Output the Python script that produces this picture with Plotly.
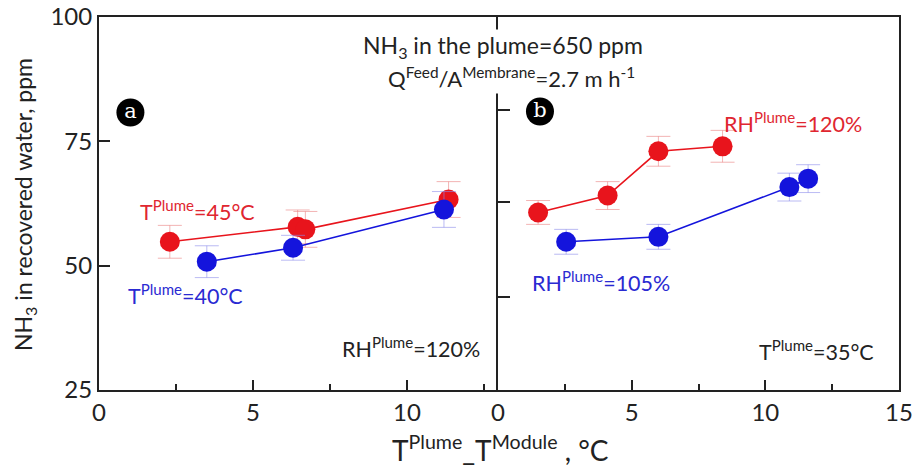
import plotly.graph_objects as go

# ---------------- data ----------------
# Panel a (RH plume = 120%)
a_red_x = [2.3, 6.45, 6.7, 11.35]      # T plume = 45 °C
a_red_y = [54.8, 57.8, 57.3, 63.3]
a_red_err = [3.3, 3.4, 3.6, 3.6]
a_blue_x = [3.5, 6.3, 11.2]            # T plume = 40 °C
a_blue_y = [50.8, 53.6, 61.3]
a_blue_err = [3.2, 2.5, 3.6]

# Panel b (T plume = 35 °C)
b_red_x = [1.5, 4.1, 6.0, 8.4]          # RH plume = 120 %
b_red_y = [60.7, 64.1, 73.0, 74.0]
b_red_err = [2.4, 2.8, 3.0, 3.2]
b_blue_x = [2.55, 6.0, 10.9, 11.6]      # RH plume = 105 %
b_blue_y = [54.8, 55.8, 65.8, 67.5]
b_blue_err = [2.5, 2.5, 2.8, 2.8]

y_ticks = [25, 50, 75, 100]
xa_ticks = [0, 5, 10]
xb_ticks = [0, 5, 10, 15]
yb_ticks = [43.8, 62.8, 81.4]

panel_letters = ["a", "b"]

RED = "#e8141c"
BLUE = "#1414dc"
RED_T = "#e02630"
BLUE_T = "#2a2ad2"
AX = "#222222"
FONT = "Lato"

fig = go.Figure()


def add_series(x, y, err, color, errcolor, xa, ya):
    fig.add_trace(go.Scatter(
        x=x, y=y, xaxis=xa, yaxis=ya, mode="lines+markers",
        line=dict(color=color, width=1.6),
        marker=dict(color=color, size=20, line=dict(width=0)),
        error_y=dict(type="data", array=err, visible=True,
                     color=errcolor, thickness=1, width=12),
        showlegend=False, hoverinfo="skip"))


add_series(a_red_x, a_red_y, a_red_err, RED, "rgba(235,130,130,0.6)", "x", "y")
add_series(a_blue_x, a_blue_y, a_blue_err, BLUE, "rgba(140,140,235,0.6)", "x", "y")
add_series(b_red_x, b_red_y, b_red_err, RED, "rgba(235,130,130,0.6)", "x2", "y2")
add_series(b_blue_x, b_blue_y, b_blue_err, BLUE, "rgba(140,140,235,0.6)", "x2", "y2")

# panel letter badges (positioned in each panel's own axes)
fig.add_trace(go.Scatter(x=[1.02], y=[80.8], xaxis="x", yaxis="y",
                         mode="markers+text", text=[panel_letters[0]],
                         textposition="middle center",
                         textfont=dict(family="DejaVu Serif, Liberation Serif, serif",
                                       size=21, color="white"),
                         marker=dict(color="black", size=28, line=dict(width=0)),
                         showlegend=False, hoverinfo="skip"))
fig.add_trace(go.Scatter(x=[1.57], y=[81.0], xaxis="x2", yaxis="y2",
                         mode="markers+text", text=[panel_letters[1]],
                         textposition="middle center",
                         textfont=dict(family="DejaVu Serif, Liberation Serif, serif",
                                       size=21, color="white"),
                         marker=dict(color="black", size=28, line=dict(width=0)),
                         showlegend=False, hoverinfo="skip"))

L, R, T, B = 99, 899, 17, 390
W, H = 913, 469
split = (498 - L) / (R - L)

tickfont = dict(family=FONT, size=24, color=AX)
common_x = dict(showline=True, linecolor=AX, linewidth=2, mirror=True,
                showgrid=False, zeroline=False, ticks="inside", ticklen=10,
                tickwidth=2, tickcolor=AX, tickfont=tickfont, automargin=False,
                minor=dict(dtick=2.5, tick0=0, ticks="inside", ticklen=6,
                           tickwidth=1.5, tickcolor=AX, showgrid=False))

fig.update_layout(
    width=W, height=H,
    margin=dict(l=L, r=W - R, t=T, b=H - B),
    paper_bgcolor="white", plot_bgcolor="white",
    font=dict(family=FONT, color=AX),
    xaxis=dict(domain=[0, split], range=[0, (498 - L) / 30.8],
               tickvals=xa_ticks, anchor="y", **common_x),
    xaxis2=dict(domain=[split, 1], range=[0, 15],
                tickvals=xb_ticks, anchor="y2", **common_x),
    yaxis=dict(domain=[0, 1], range=[25, 100], tickvals=y_ticks,
               showline=True, linecolor=AX, linewidth=2, mirror=False,
               showgrid=False, zeroline=False, ticks="inside", ticklen=11,
               tickwidth=2, tickcolor=AX, tickfont=tickfont, anchor="x",
               automargin=False),
    yaxis2=dict(domain=[0, 1], range=[25, 100], tickvals=yb_ticks,
                showticklabels=False, automargin=False,
                showline=True, linecolor=AX, linewidth=2, mirror=True,
                showgrid=False, zeroline=False, ticks="inside", ticklen=12,
                tickwidth=2, tickcolor=AX, anchor="x2"),
)


def px_x(px):
    return (px - L) / (R - L)


def px_y(py):
    return (B - py) / (B - T)


def note(text, x, y, xref, yref, size, color, **kw):
    return dict(text=text, x=x, y=y, xref=xref, yref=yref, showarrow=False,
                xanchor="center", yanchor="middle",
                font=dict(family=FONT, size=size, color=color), **kw)


ann = []
# header texts
ann.append(note("NH<sub>3</sub> in the plume=650 ppm", px_x(503), px_y(46),
                "paper", "paper", 23, AX, bgcolor="white"))
ann.append(note("Q<sup>Feed</sup>/A<sup>Membrane</sup>=2.7 m h<sup>-1</sup>",
                px_x(511), px_y(77), "paper", "paper", 22, AX, bgcolor="white"))

# series labels, panel a
ann.append(note("T<sup>Plume</sup>=45°C", 3.2, 61.0, "x", "y", 21.5, RED_T))
ann.append(note("T<sup>Plume</sup>=40°C", 2.8, 44.3, "x", "y", 21.5, BLUE_T))
ann.append(note("RH<sup>Plume</sup>=120%", 10.13, 33.5, "x", "y", 21.5, AX))
# panel b
ann.append(note("RH<sup>Plume</sup>=120%", 11.05, 78.7, "x2", "y2", 21.5, RED_T))
ann.append(note("RH<sup>Plume</sup>=105%", 3.85, 46.9, "x2", "y2", 21.5, BLUE_T))
ann.append(note("T<sup>Plume</sup>=35°C", 11.9, 32.9, "x2", "y2", 21.5, AX))

# axis titles
ann.append(note("NH<sub>3</sub> in recovered water, ppm", px_x(24), px_y(205),
                "paper", "paper", 23, AX, textangle=-90))
ann.append(note("T<sup>Plume</sup>_T<sup>Module</sup> , °C", px_x(500), px_y(448),
                "paper", "paper", 28, AX))

fig.update_layout(annotations=ann)

fig.write_html("out.html")
